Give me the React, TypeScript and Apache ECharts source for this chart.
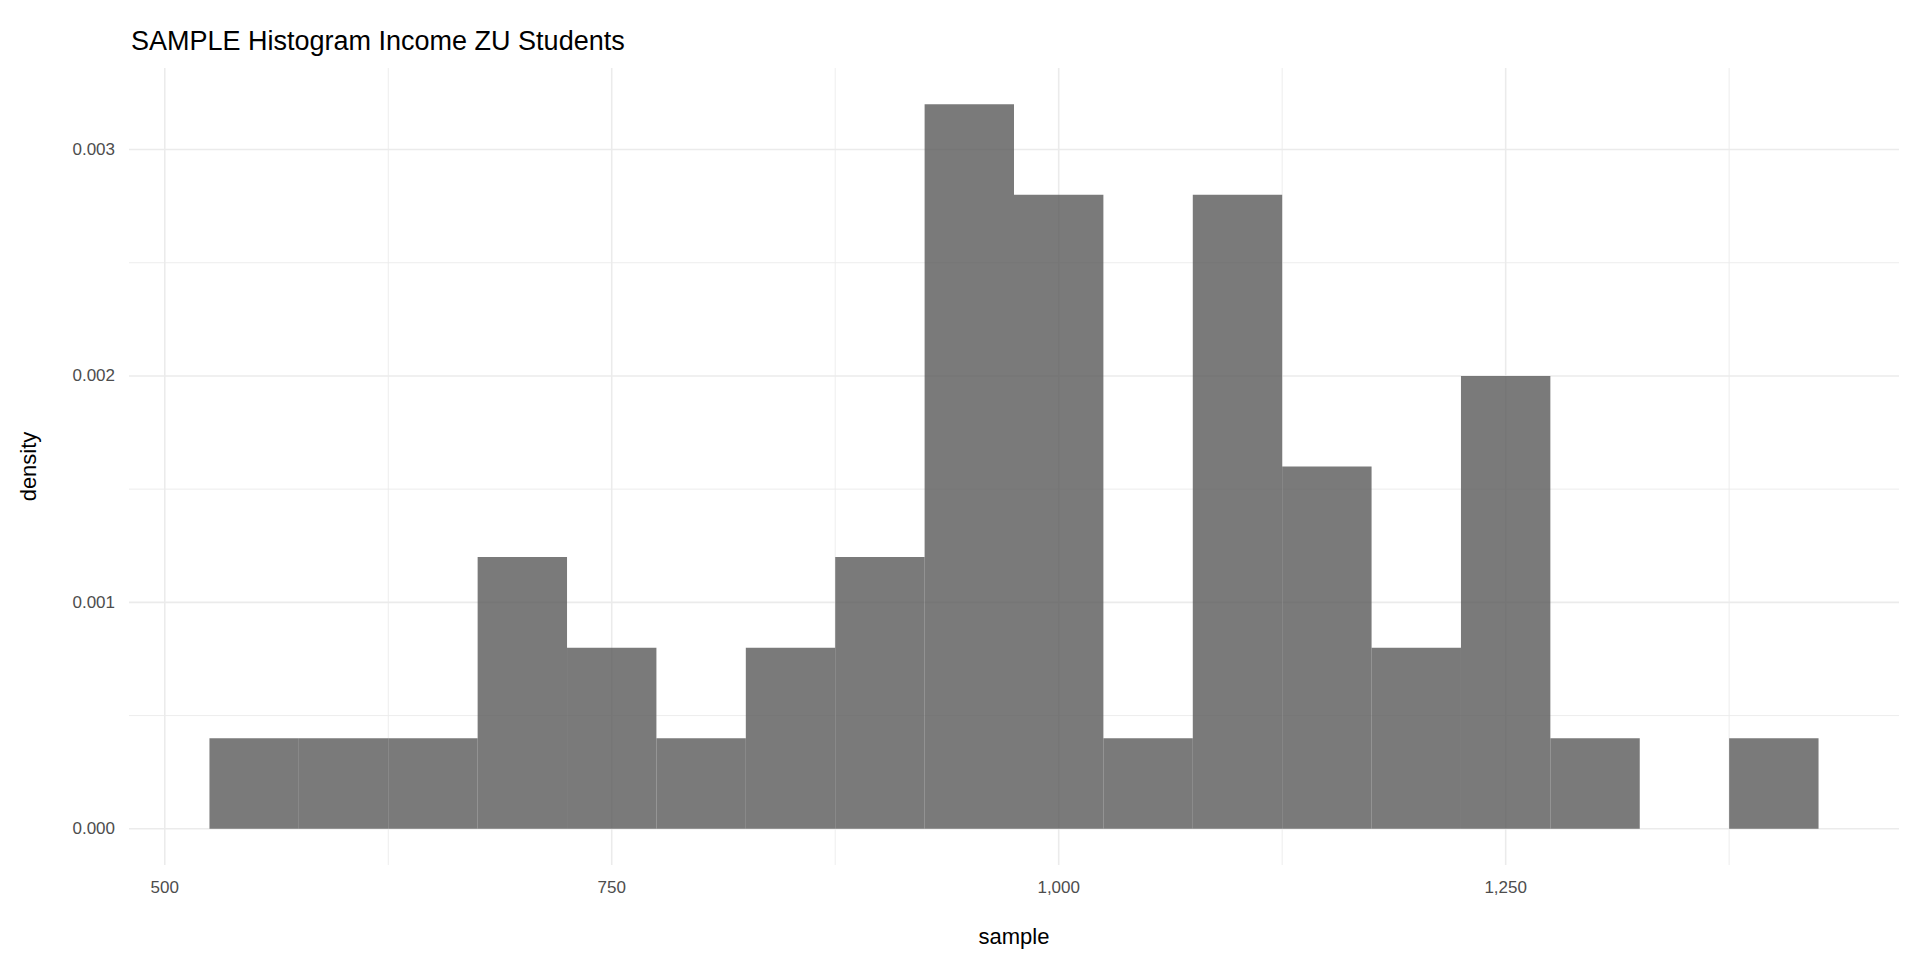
import { useRef, useEffect } from "react";
import * as echarts from "echarts";

const binStarts = [525, 575, 625, 675, 725, 775, 825, 875, 925, 975, 1025, 1075, 1125, 1175, 1225, 1275, 1325, 1375];
const densities = [0.0004, 0.0004, 0.0004, 0.0012, 0.0008, 0.0004, 0.0008, 0.0012, 0.0032, 0.0028, 0.0004, 0.0028, 0.0016, 0.0008, 0.002, 0.0004, 0, 0.0004];
const binWidth = 50;
const xMajor = [500, 750, 1000, 1250];
const xMinor = [625, 875, 1125, 1375];
const yMajor = [0, 0.001, 0.002, 0.003];
const yMinor = [0.0005, 0.0015, 0.0025];

const X_MIN = 480;
const X_MAX = 1470;
const Y_MIN = -0.00016;
const Y_MAX = 0.00336;

export default function App() {
  const ref = useRef<HTMLDivElement>(null);

  useEffect(() => {
    if (!ref.current) return;
    const chart = echarts.init(ref.current, undefined, { renderer: "svg" });

    // grid lines as data: [value, isVertical, isMajor]
    const gridData: [number, number, number][] = [
      ...xMinor.map((v) => [v, 1, 0] as [number, number, number]),
      ...yMinor.map((v) => [v, 0, 0] as [number, number, number]),
      ...xMajor.map((v) => [v, 1, 1] as [number, number, number]),
      ...yMajor.map((v) => [v, 0, 1] as [number, number, number]),
    ];

    chart.setOption({
      animation: false,
      backgroundColor: "#fff",
      textStyle: { fontFamily: "Liberation Sans, Arial, sans-serif" },
      title: {
        text: "SAMPLE Histogram Income ZU Students",
        left: 118,
        top: 14,
        textStyle: { fontSize: 27, fontWeight: "normal", color: "#000" },
      },
      grid: { left: 121, right: 13, top: 60, bottom: 87 },
      xAxis: {
        type: "value",
        min: X_MIN,
        max: X_MAX,
        name: "sample",
        nameLocation: "middle",
        nameGap: 60,
        nameTextStyle: { fontSize: 22, color: "#000" },
        axisLine: { show: false },
        axisTick: { show: false },
        splitLine: { show: false },
        axisLabel: { customValues: xMajor, color: "#4d4d4d", fontSize: 17, margin: 14 },
      },
      yAxis: {
        type: "value",
        min: Y_MIN,
        max: Y_MAX,
        name: "density",
        nameLocation: "middle",
        nameGap: 90,
        nameTextStyle: { fontSize: 22, color: "#000" },
        axisLine: { show: false },
        axisTick: { show: false },
        splitLine: { show: false },
        axisLabel: {
          customValues: yMajor,
          color: "#4d4d4d",
          fontSize: 17,
          margin: 14,
          formatter: (v: number) => v.toFixed(3),
        },
      },
      series: [
        {
          type: "custom",
          silent: true,
          data: gridData,
          renderItem: (params: any, api: any) => {
            const v = api.value(0);
            const vert = api.value(1) === 1;
            const major = api.value(2) === 1;
            const p1 = vert ? api.coord([v, Y_MIN]) : api.coord([X_MIN, v]);
            const p2 = vert ? api.coord([v, Y_MAX]) : api.coord([X_MAX, v]);
            return {
              type: "line",
              shape: { x1: p1[0], y1: p1[1], x2: p2[0], y2: p2[1] },
              style: { stroke: "#ebebeb", lineWidth: major ? 1.6 : 0.9 },
            };
          },
        },
        {
          type: "custom",
          data: binStarts.map((s, i) => [s, densities[i]]),
          renderItem: (params: any, api: any) => {
            const s = api.value(0);
            const d = api.value(1);
            const a = api.coord([s, d]);
            const b = api.coord([s + binWidth, 0]);
            return {
              type: "rect",
              shape: { x: a[0], y: a[1], width: b[0] - a[0], height: b[1] - a[1] },
              style: { fill: "rgba(89,89,89,0.8)" },
            };
          },
        },
      ],
    });

    return () => chart.dispose();
  }, []);

  return <div ref={ref} style={{ width: 1904, height: 944 }} />;
}
